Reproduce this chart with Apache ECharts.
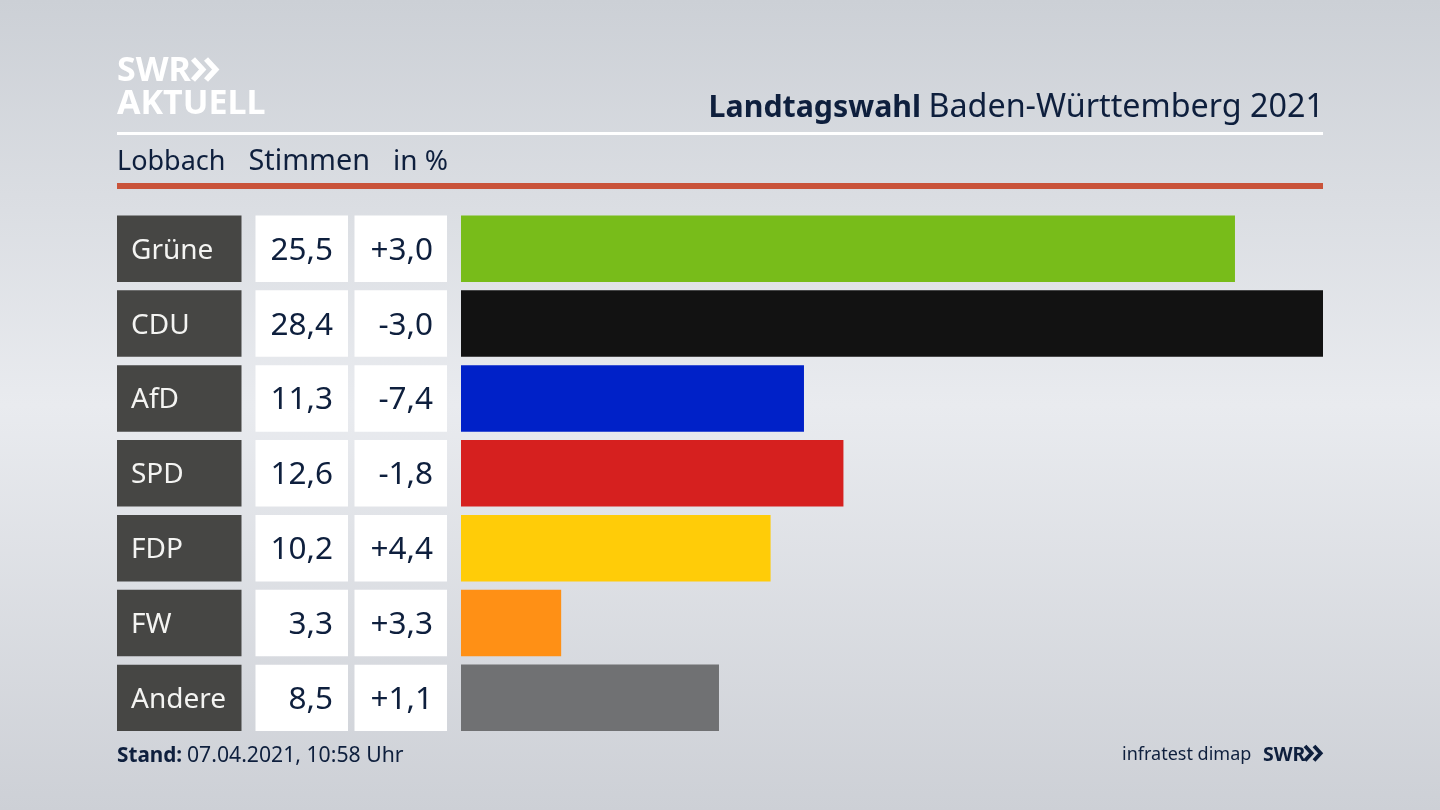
<!DOCTYPE html>
<html>
<head>
<meta charset="utf-8">
<style>html,body{margin:0;padding:0}#main{width:1440px;height:810px}</style>
<script src="https://cdn.jsdelivr.net/npm/echarts@6/dist/echarts.min.js"></script>
</head>
<body>
<div id="main"></div>
<script>
var parties = ['Grüne', 'CDU', 'AfD', 'SPD', 'FDP', 'FW', 'Andere']
var votes = [25.5, 28.4, 11.3, 12.6, 10.2, 3.3, 8.5]
var changes = ['+3,0', '-3,0', '-7,4', '-1,8', '+4,4', '+3,3', '+1,1']
var colors = ['#78bc1a', '#121212', '#0021c8', '#d6201f', '#ffcc08', '#ff9015', '#707173']

var navy = '#0e1f3d'
var font = '"Noto Sans", sans-serif'
var myChart = echarts.init(document.getElementById('main'))

function chevrons(x, y, h, color, width) {
  // the two arrow heads of the SWR logo
  var out = []
  for (let i = 0; i < 2; i++) {
    var dx = x + i * h * 0.62
    out.push({
      type: 'polyline',
      shape: { points: [[dx, y], [dx + h * 0.46, y + h / 2], [dx, y + h]] },
      style: { stroke: color, lineWidth: width, fill: null },
    })
  }
  return out
}

function label(x, y, str, size, opts) {
  opts = opts || {}
  return {
    type: 'text',
    x: x,
    y: y,
    style: {
      text: str,
      fill: opts.color || navy,
      font: (opts.bold ? 'bold ' : '') + size + 'px ' + font,
      align: opts.align || 'left',
      verticalAlign: 'middle',
    },
  }
}

// one row of the table: party box, votes box, change box
function renderCells(params, api) {
  var i = api.value(0)
  var mid = api.coord([0, i])[1]
  var h = api.size([0, 1])[1] - 8.4
  var top = mid - h / 2
  var cell = function (x, w, fill) {
    return { type: 'rect', shape: { x: x, y: top, width: w, height: h }, style: { fill: fill } }
  }
  return {
    type: 'group',
    children: [
      cell(117, 124.5, '#464644'),
      cell(255.5, 92.5, '#ffffff'),
      cell(354.5, 92.5, '#ffffff'),
      label(131, mid + 2, parties[i], 28, { color: '#f4f4f2' }),
      label(333, mid + 2, votes[i].toFixed(1).replace('.', ','), 31.5, { align: 'right' }),
      label(433, mid + 2, changes[i], 31.5, { align: 'right' }),
    ],
  }
}

var option = {
  animation: false,
  backgroundColor: {
    type: 'linear',
    x: 0,
    y: 0,
    x2: 0,
    y2: 1,
    colorStops: [
      { offset: 0, color: '#ccd0d6' },
      { offset: 0.5, color: '#e9ebef' },
      { offset: 1, color: '#cdd0d6' },
    ],
  },
  grid: { left: 461, top: 211.3, width: 862, height: 524 },
  xAxis: { type: 'value', min: 0, max: 28.4, show: false },
  yAxis: { type: 'category', data: parties, inverse: true, show: false },
  series: [
    {
      type: 'bar',
      barWidth: 66.5,
      data: votes.map(function (v, i) {
        return { value: v, itemStyle: { color: colors[i] } }
      }),
    },
    {
      type: 'custom',
      renderItem: renderCells,
      encode: { y: 0 },
      data: parties.map(function (p, i) {
        return [i]
      }),
      silent: true,
    },
  ],
  graphic: {
    elements: [
      { type: 'rect', shape: { x: 117, y: 132, width: 1206, height: 3 }, style: { fill: '#ffffff' } },
      { type: 'rect', shape: { x: 117, y: 183, width: 1206, height: 6 }, style: { fill: '#c9533a' } },
      label(117, 71, 'SWR', 34, { color: '#fff', bold: true }),
      label(117, 104, 'AKTUELL', 34, { color: '#fff', bold: true }),
      label(1324, 108, 'Baden-Württemberg 2021', 32.3, { align: 'right' }),
      label(921, 108, 'Landtagswahl', 30.3, { align: 'right', bold: true }),
      label(117, 162, 'Lobbach', 27),
      label(248.5, 162, 'Stimmen', 28.8),
      label(393, 162, 'in %', 28),
      label(117, 756, 'Stand:', 20.7, { bold: true }),
      label(187, 756, '07.04.2021, 10:58 Uhr', 21.2),
      label(1122, 755, 'infratest dimap', 18),
      label(1263, 755, 'SWR', 19.5, { bold: true }),
    ]
      .concat(chevrons(193, 59, 21, '#ffffff', 5.5))
      .concat(chevrons(1305, 746, 14.5, navy, 3.8)),
  },
}

myChart.setOption(option)
</script>
</body>
</html>
